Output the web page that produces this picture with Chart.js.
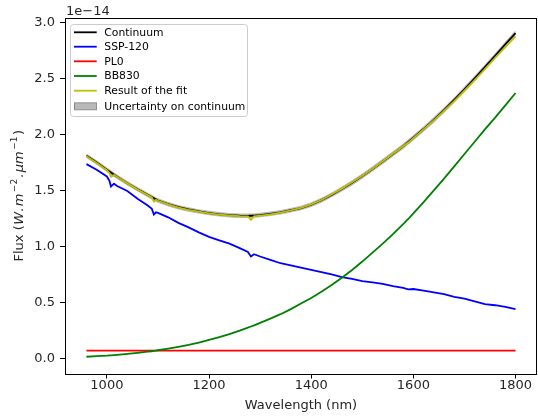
<!DOCTYPE html>
<html>
<head>
<meta charset="utf-8">
<script src="https://cdn.jsdelivr.net/npm/chart.js@4.4.0/dist/chart.umd.min.js"></script>
<style>
  html, body { margin: 0; padding: 0; background: #ffffff; }
  #wrap { width: 538px; height: 419px; position: relative; }
</style>
</head>
<body>
<div id="wrap"><canvas id="c" width="538" height="419"></canvas></div>
<script>
// ---- Data (flux in units of 1e-14 W.m^-2.um^-1) ----
const wavelengths = [960,980,1000,1005,1008,1014,1020,1040,1060,1080,1088,1092,1096,1100,1120,1140,1160,1180,1200,1220,1240,1260,1276,1282,1288,1300,1320,1340,1360,1380,1400,1420,1440,1460,1480,1500,1520,1540,1560,1580,1590,1600,1620,1640,1660,1680,1700,1720,1740,1760,1780,1800];

const continuum = [1.815,1.755,1.69,1.675,1.665,1.645,1.628,1.57,1.515,1.465,1.445,1.435,1.425,1.415,1.382,1.355,1.335,1.318,1.303,1.292,1.284,1.279,1.278,1.279,1.28,1.285,1.296,1.31,1.328,1.348,1.378,1.418,1.465,1.517,1.573,1.633,1.697,1.763,1.831,1.90,1.937,1.975,2.053,2.135,2.222,2.313,2.408,2.505,2.605,2.707,2.81,2.91];

const ssp120 = [1.74,1.69,1.63,1.59,1.54,1.565,1.545,1.50,1.43,1.37,1.34,1.29,1.31,1.305,1.265,1.215,1.175,1.13,1.09,1.06,1.03,0.99,0.955,0.915,0.935,0.915,0.885,0.855,0.835,0.815,0.795,0.775,0.755,0.73,0.715,0.695,0.685,0.67,0.65,0.635,0.622,0.625,0.61,0.595,0.58,0.555,0.54,0.515,0.49,0.48,0.465,0.445];

const pl0 = [0.075,0.075,0.075,0.075,0.075,0.075,0.075,0.075,0.075,0.075,0.075,0.075,0.075,0.075,0.075,0.075,0.075,0.075,0.075,0.075,0.075,0.075,0.075,0.075,0.075,0.075,0.075,0.075,0.075,0.075,0.075,0.075,0.075,0.075,0.075,0.075,0.075,0.075,0.075,0.075,0.075,0.075,0.075,0.075,0.075,0.075,0.075,0.075,0.075,0.075,0.075,0.075];

const bb830 = [0.02,0.025,0.03,0.032,0.033,0.035,0.037,0.045,0.054,0.065,0.069,0.072,0.075,0.078,0.092,0.108,0.126,0.147,0.17,0.195,0.222,0.253,0.28,0.29,0.30,0.322,0.36,0.40,0.445,0.495,0.545,0.60,0.66,0.725,0.795,0.87,0.95,1.03,1.115,1.205,1.25,1.30,1.40,1.505,1.61,1.72,1.83,1.94,2.05,2.155,2.265,2.375];

const fitResult = [1.81,1.75,1.685,1.66,1.628,1.642,1.625,1.568,1.513,1.463,1.442,1.405,1.422,1.413,1.38,1.352,1.332,1.315,1.30,1.289,1.281,1.276,1.274,1.243,1.274,1.281,1.292,1.307,1.326,1.349,1.38,1.42,1.468,1.521,1.578,1.636,1.698,1.766,1.833,1.90,1.932,1.972,2.05,2.13,2.215,2.302,2.395,2.49,2.588,2.688,2.785,2.88];

const uncertainty = [0.02,0.02,0.02,0.02,0.02,0.02,0.02,0.02,0.02,0.02,0.02,0.02,0.02,0.02,0.02,0.02,0.02,0.02,0.02,0.02,0.02,0.02,0.02,0.02,0.02,0.02,0.02,0.02,0.02,0.021,0.021,0.022,0.022,0.022,0.023,0.023,0.023,0.024,0.024,0.024,0.025,0.025,0.025,0.025,0.025,0.025,0.025,0.025,0.025,0.025,0.025,0.025];

const xTickValues = [1000, 1200, 1400, 1600, 1800];
const yTickValues = [0.0, 0.5, 1.0, 1.5, 2.0, 2.5, 3.0];

const seriesNames = ['Continuum', 'SSP-120', 'PL0', 'BB830', 'Result of the fit', 'Uncertainty on continuum'];
const xLabel = 'Wavelength (nm)';
const offsetLabel = '1e\u221214';

// ---- Build datasets ----
const pts = arr => wavelengths.map((w, i) => ({x: w, y: arr[i]}));
const upper = wavelengths.map((w, i) => ({x: w, y: continuum[i] + uncertainty[i]}));
const lower = wavelengths.map((w, i) => ({x: w, y: continuum[i] - uncertainty[i]}));

const FONT = "'DejaVu Sans', 'Liberation Sans', sans-serif";
const COLORS = {
  cont: '#000000', ssp: '#0000ff', pl: '#ff0000', bb: '#008000', fit: '#bfbf00',
  band: 'rgba(128,128,128,0.55)'
};
const LW = 1.8;

const lineDs = (label, data, color, order) => ({
  label, data, borderColor: color, backgroundColor: color, borderWidth: LW,
  pointRadius: 0, fill: false, tension: 0, order
});

const decorPlugin = {
  id: 'decor',
  afterDraw(chart) {
    const ctx = chart.ctx;
    const a = chart.chartArea;
    ctx.save();
    // frame (spines)
    ctx.strokeStyle = '#000';
    ctx.lineWidth = 1;
    ctx.strokeRect(Math.round(a.left) + 0.5, Math.round(a.top) + 0.5,
                   Math.round(a.right - a.left) - 1, Math.round(a.bottom - a.top));

    // offset text
    ctx.fillStyle = '#262626';
    ctx.font = '13px ' + FONT;
    ctx.textAlign = 'left';
    ctx.textBaseline = 'alphabetic';
    ctx.fillText(offsetLabel, 66, 14.5);

    // y-axis title with italics and superscripts
    const parts = [
      {t: 'Flux (', f: '13px ' + FONT, dy: 0, gap: 0.5},
      {t: 'W', f: 'italic 13px ' + FONT, dy: 0, gap: 0.5},
      {t: '.', f: 'italic 13px ' + FONT, dy: 0, gap: 1},
      {t: 'm', f: 'italic 13px ' + FONT, dy: 0, gap: 1.5},
      {t: '\u22122', f: '9px ' + FONT, dy: -5.5, gap: 1.5},
      {t: '.', f: 'italic 13px ' + FONT, dy: 0, gap: 1},
      {t: '\u03bcm', f: 'italic 13px ' + FONT, dy: 0, gap: 1.5},
      {t: '\u22121', f: '9px ' + FONT, dy: -5.5, gap: 1.5},
      {t: ')', f: '13px ' + FONT, dy: 0, gap: 0}
    ];
    let total = 0;
    parts.forEach(p => { ctx.font = p.f; p.w = ctx.measureText(p.t).width; total += p.w + p.gap; });
    ctx.translate(22.5, (a.top + a.bottom) / 2);
    ctx.rotate(-Math.PI / 2);
    let xx = -total / 2;
    ctx.textBaseline = 'alphabetic';
    parts.forEach(p => { ctx.font = p.f; ctx.fillText(p.t, xx, p.dy); xx += p.w + p.gap; });
    ctx.setTransform(1, 0, 0, 1, 0, 0);
    const dpr = chart.currentDevicePixelRatio || 1;
    ctx.scale(dpr, dpr);

    // legend
    const bx = 70.5, by = 24.5, bw = 177, bh = 92, r = 3;
    ctx.beginPath();
    ctx.moveTo(bx + r, by);
    ctx.lineTo(bx + bw - r, by); ctx.quadraticCurveTo(bx + bw, by, bx + bw, by + r);
    ctx.lineTo(bx + bw, by + bh - r); ctx.quadraticCurveTo(bx + bw, by + bh, bx + bw - r, by + bh);
    ctx.lineTo(bx + r, by + bh); ctx.quadraticCurveTo(bx, by + bh, bx, by + bh - r);
    ctx.lineTo(bx, by + r); ctx.quadraticCurveTo(bx, by, bx + r, by);
    ctx.closePath();
    ctx.fillStyle = 'rgba(255,255,255,0.8)';
    ctx.fill();
    ctx.strokeStyle = '#cccccc';
    ctx.lineWidth = 1;
    ctx.stroke();

    const rows = [32.3, 46.7, 61.3, 76, 90.7, 106.3];
    const lineColors = [COLORS.cont, COLORS.ssp, COLORS.pl, COLORS.bb, COLORS.fit];
    ctx.font = '10.8px ' + FONT;
    ctx.textAlign = 'left';
    ctx.textBaseline = 'middle';
    rows.forEach((ry, i) => {
      if (i < 5) {
        ctx.strokeStyle = lineColors[i];
        ctx.lineWidth = LW;
        ctx.beginPath(); ctx.moveTo(74, ry); ctx.lineTo(96.7, ry); ctx.stroke();
      } else {
        ctx.fillStyle = COLORS.band;
        ctx.fillRect(74, ry - 3.5, 22.7, 7);
        ctx.strokeStyle = 'rgba(100,100,100,0.6)';
        ctx.lineWidth = 1;
        ctx.strokeRect(74.5, ry - 3.5, 22, 7);
      }
      ctx.fillStyle = '#000';
      ctx.fillText(seriesNames[i], 104.3, ry + 0.5);
    });
    ctx.restore();
  }
};

new Chart(document.getElementById('c'), {
  type: 'line',
  data: {
    datasets: [
      {label: seriesNames[5], data: upper, borderWidth: 0, borderColor: 'rgba(0,0,0,0)',
       backgroundColor: COLORS.band, pointRadius: 0, fill: '+1', order: 6},
      {label: seriesNames[5] + ' (lower)', data: lower, borderWidth: 0, borderColor: 'rgba(0,0,0,0)',
       backgroundColor: COLORS.band, pointRadius: 0, fill: false, order: 7},
      lineDs(seriesNames[0], pts(continuum), COLORS.cont, 5),
      lineDs(seriesNames[1], pts(ssp120), COLORS.ssp, 4),
      lineDs(seriesNames[2], pts(pl0), COLORS.pl, 3),
      lineDs(seriesNames[3], pts(bb830), COLORS.bb, 2),
      lineDs(seriesNames[4], pts(fitResult), COLORS.fit, 1)
    ]
  },
  options: {
    responsive: false,
    animation: false,
    devicePixelRatio: 1,
    layout: {padding: {left: 0, right: 1, top: 18, bottom: 0}},
    plugins: {
      legend: {display: false},
      tooltip: {enabled: false},
      filler: {propagate: false}
    },
    scales: {
      x: {
        type: 'linear',
        min: 918, max: 1842,
        afterBuildTicks: s => { s.ticks = xTickValues.map(v => ({value: v})); },
        afterFit: s => { s.height = 45.5; },
        grid: {display: true, drawOnChartArea: false, drawTicks: true, tickLength: 5, color: '#000', lineWidth: 1},
        border: {display: false},
        ticks: {autoSkip: false, maxRotation: 0, padding: -1, color: '#262626',
                font: {family: FONT, size: 13}, callback: v => String(v)},
        title: {display: true, text: xLabel, color: '#262626',
                font: {family: FONT, size: 13}, padding: {top: 0, bottom: 6}}
      },
      y: {
        type: 'linear',
        min: -0.1295, max: 3.0445,
        afterBuildTicks: s => { s.ticks = yTickValues.map(v => ({value: v})); },
        afterFit: s => { s.width = 65; },
        grid: {display: true, drawOnChartArea: false, drawTicks: true, tickLength: 5, color: '#000', lineWidth: 1},
        border: {display: false},
        ticks: {autoSkip: false, padding: 5, color: '#262626',
                font: {family: FONT, size: 13}, callback: v => v.toFixed(1)}
      }
    }
  },
  plugins: [decorPlugin]
});
</script>
</body>
</html>
